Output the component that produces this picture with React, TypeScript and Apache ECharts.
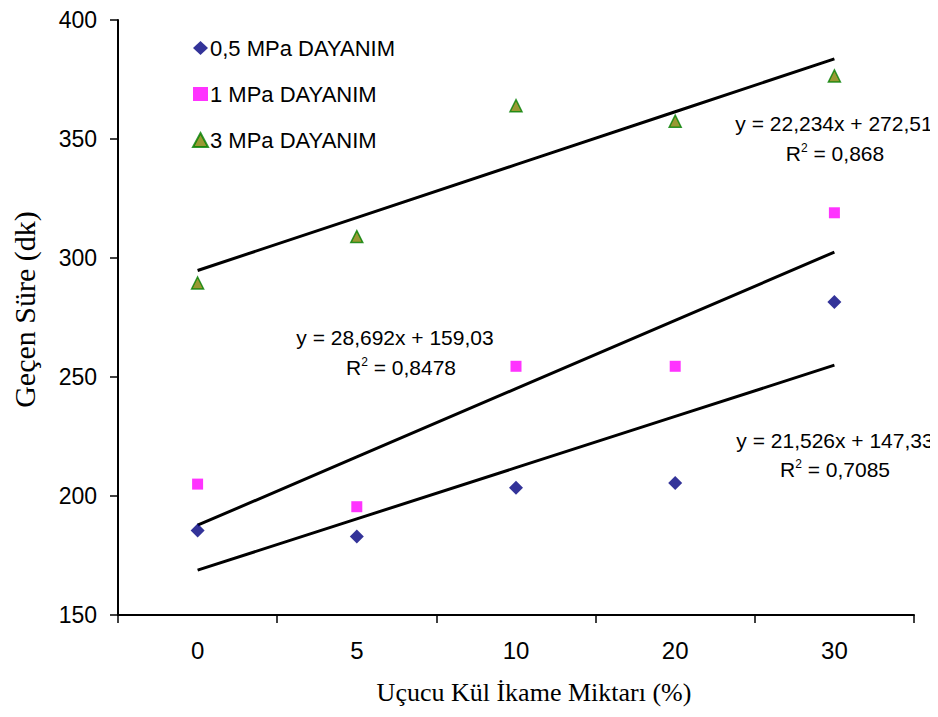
import React, { useEffect, useRef } from "react";
import * as echarts from "echarts";

const categories = ["0", "5", "10", "20", "30"];
const s05 = [185.5, 183, 203.5, 205.5, 281.5];
const s1 = [205, 195.5, 254.5, 254.5, 319];
const s3 = [289.5, 309, 364, 357.5, 376.5];
// trendline coefficients [slope, intercept] as printed on the chart (x = 1..5)
const trend05 = [21.526, 147.33];
const trend1 = [28.692, 159.03];
const trend3 = [22.234, 272.51];
const yTicks = [150, 400, 50];

const trendData = (c: number[]) => categories.map((_, i) => c[0] * (i + 1) + c[1]);

const SANS = "Liberation Sans, Arial, sans-serif";
const SERIF = "Liberation Serif, Times New Roman, serif";

export default function App() {
  const ref = useRef<HTMLDivElement>(null);
  useEffect(() => {
    if (!ref.current) return;
    const chart = echarts.init(ref.current, null, { renderer: "svg" });
    const eqText = (x: number, y: number, eq: string, x2: number, y2: number, r2: string) => [
      {
        type: "text",
        x,
        y,
        style: { text: eq, fontFamily: SANS, fontSize: 21, fill: "#000", textAlign: "center", textVerticalAlign: "middle" },
      },
      {
        type: "text",
        x: x2,
        y: y2,
        style: {
          text: "{a|R}{s|2}{a| = " + r2 + "}",
          textAlign: "center",
          textVerticalAlign: "middle",
          rich: {
            a: { fontFamily: SANS, fontSize: 21, fill: "#000" },
            s: { fontFamily: SANS, fontSize: 12, fill: "#000", verticalAlign: "top", padding: [0, 0, 10, 0] },
          },
        },
      },
    ];
    const lineSeries = (c: number[], name: string) => ({
      type: "line",
      name,
      data: trendData(c),
      showSymbol: false,
      symbol: "none",
      lineStyle: { color: "#000", width: 3 },
      z: 1,
      silent: true,
    });
    chart.setOption({
      animation: false,
      backgroundColor: "#fff",
      grid: { left: 118, right: 24, top: 20, bottom: 102 },
      legend: {
        orient: "vertical",
        left: 187,
        top: 32,
        itemGap: 24,
        itemWidth: 15,
        itemHeight: 14,
        data: ["0,5 MPa DAYANIM", "1 MPa DAYANIM", "3 MPa DAYANIM"],
        textStyle: { fontFamily: SANS, fontSize: 22, color: "#000", padding: [0, 0, 0, -3] },
      },
      xAxis: {
        type: "category",
        data: categories,
        boundaryGap: true,
        name: "Uçucu Kül İkame Miktarı (%)",
        nameLocation: "middle",
        nameGap: 64,
        nameTextStyle: { fontFamily: SERIF, fontSize: 26, color: "#000", padding: [0, 0, 0, 36] },
        axisLine: { lineStyle: { color: "#000", width: 2 } },
        axisTick: { show: true, inside: false, length: 8, alignWithLabel: false, lineStyle: { color: "#000", width: 1.5 } },
        axisLabel: { fontFamily: SANS, fontSize: 24, color: "#000", margin: 23 },
        splitLine: { show: false },
      },
      yAxis: {
        type: "value",
        min: yTicks[0],
        max: yTicks[1],
        interval: yTicks[2],
        name: "Geçen Süre (dk)",
        nameLocation: "middle",
        nameGap: 79,
        nameTextStyle: { fontFamily: SERIF, fontSize: 30, color: "#000", padding: [0, 0, 0, 16] },
        axisLine: { show: true, lineStyle: { color: "#000", width: 2 } },
        axisTick: { show: true, length: 8, lineStyle: { color: "#000", width: 1.5 } },
        axisLabel: { fontFamily: SANS, fontSize: 23, color: "#000", margin: 21 },
        splitLine: { show: false },
      },
      series: [
        lineSeries(trend05, "t05"),
        lineSeries(trend1, "t1"),
        lineSeries(trend3, "t3"),
        {
          type: "scatter",
          name: "0,5 MPa DAYANIM",
          data: s05,
          symbol: "diamond",
          symbolSize: 14,
          itemStyle: { color: "#000080" },
          z: 3,
        },
        {
          type: "scatter",
          name: "1 MPa DAYANIM",
          data: s1,
          symbol: "rect",
          symbolSize: 11,
          itemStyle: { color: "#FF00FF" },
          z: 3,
        },
        {
          type: "scatter",
          name: "3 MPa DAYANIM",
          data: s3,
          symbol: "triangle",
          symbolSize: 12,
          itemStyle: { color: "#808000", borderColor: "#008000", borderWidth: 1.5 },
          z: 3,
        },
      ],
      graphic: [
        ...eqText(834, 123, "y = 22,234x + 272,51", 835, 153, "0,868"),
        ...eqText(395, 337, "y = 28,692x + 159,03", 401, 367, "0,8478"),
        ...eqText(835, 440, "y = 21,526x + 147,33", 835, 469, "0,7085"),
      ],
    });
    return () => chart.dispose();
  }, []);
  return <div ref={ref} style={{ width: 938, height: 717, margin: -8 }} />;
}
